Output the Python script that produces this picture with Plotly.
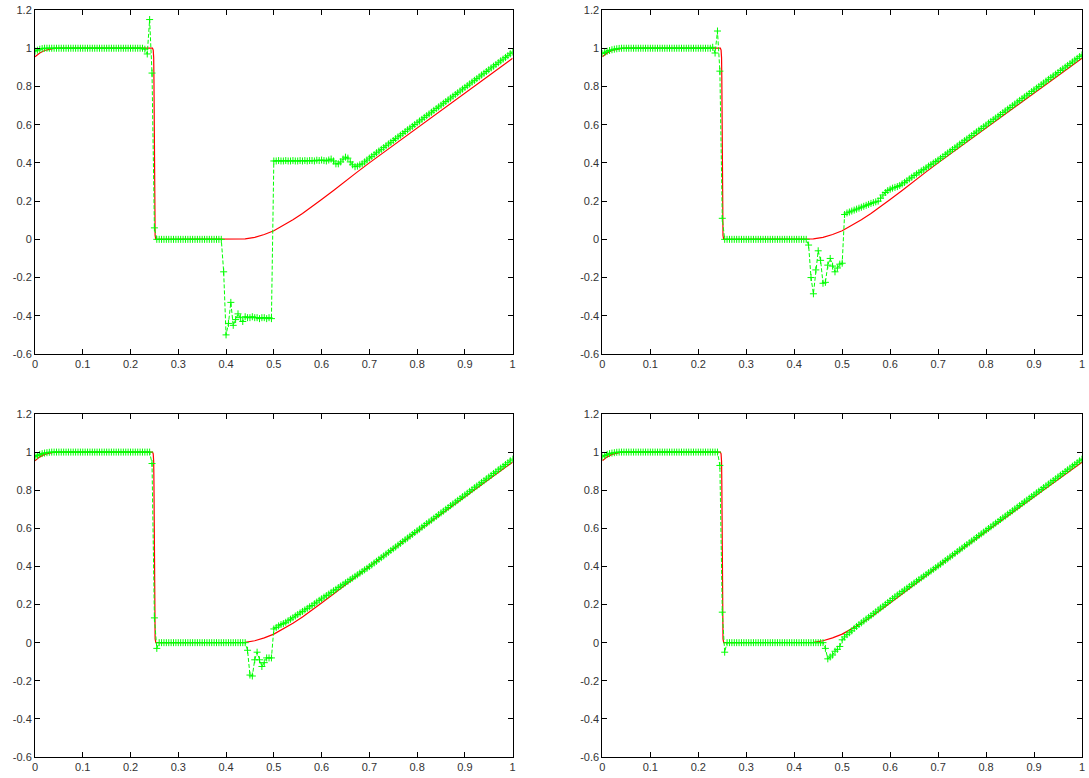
import plotly.graph_objects as go

# ---------------- data ----------------
x_ticks = [0, 0.1, 0.2, 0.3, 0.4, 0.5, 0.6, 0.7, 0.8, 0.9, 1.0]
x_tick_labels = ["0", "0.1", "0.2", "0.3", "0.4", "0.5", "0.6", "0.7", "0.8", "0.9", "1"]
y_ticks = [-0.6, -0.4, -0.2, 0, 0.2, 0.4, 0.6, 0.8, 1.0, 1.2]
y_tick_labels = ["-0.6", "-0.4", "-0.2", "0", "0.2", "0.4", "0.6", "0.8", "1", "1.2"]

# reference (red) curve, same in all panels
ref_x = [0, 0.01, 0.02, 0.03, 0.04, 0.05, 0.246, 0.2475, 0.2485, 0.249, 0.2495, 0.25,
         0.2505, 0.2515, 0.253, 0.42, 0.44, 0.46, 0.48, 0.5, 0.52, 0.54, 0.56, 0.58,
         0.6, 0.625, 0.65, 0.675, 0.7, 0.75, 0.8, 0.85, 0.9, 0.95, 1.0]
ref_y = [0.955, 0.975, 0.988, 0.995, 0.999, 1.0, 1.0, 0.99, 0.95, 0.85, 0.6, 0.3,
         0.1, 0.02, 0.0, 0.0, 0.002, 0.01, 0.025, 0.045, 0.072, 0.102, 0.135, 0.17,
         0.208, 0.255, 0.305, 0.353, 0.4, 0.492, 0.583, 0.674, 0.765, 0.856, 0.947]

# numerical solution (green), sampled every 0.005 on [0, 1]
grid_x = [round(i * 0.005, 3) for i in range(201)]

num_1 = [
    0.985, 0.99, 0.995, 0.998,
    1, 1, 1, 1, 1, 1, 1, 1, 1, 1, 1, 1, 1, 1, 1, 1, 1, 1, 1, 1, 1, 1, 1, 1, 1, 1, 1, 1, 1, 1, 1, 1, 1, 1, 1, 1, 1, 1, 1, 1, 1,
    1.0, 0.995, 0.97, 1.15, 0.87, 0.06,
    0, 0, 0, 0, 0, 0, 0, 0, 0, 0, 0, 0, 0, 0, 0, 0, 0, 0, 0, 0, 0, 0, 0, 0, 0, 0, 0, 0,
    -0.17, -0.50, -0.44, -0.33, -0.45, -0.42, -0.39, -0.41, -0.43, -0.405, -0.41,
    -0.41, -0.405, -0.41, -0.41, -0.415, -0.41, -0.41, -0.415, -0.41, -0.415,
    0.41, 0.41, 0.412, 0.41, 0.41, 0.412, 0.41, 0.41, 0.412, 0.41, 0.41, 0.412,
    0.41, 0.412, 0.41, 0.412, 0.412, 0.41, 0.414, 0.412, 0.415, 0.412, 0.41, 0.415,
    0.42, 0.41, 0.395, 0.395, 0.405, 0.42, 0.43, 0.425, 0.405, 0.39, 0.38, 0.383,
    0.39, 0.395, 0.405, 0.415, 0.425,
    0.434, 0.443, 0.453, 0.462, 0.471, 0.480, 0.490, 0.499, 0.508, 0.517,
    0.527, 0.536, 0.545, 0.554, 0.564, 0.573, 0.582, 0.591, 0.601, 0.610,
    0.619, 0.628, 0.638, 0.647, 0.656, 0.665, 0.675, 0.684, 0.693, 0.702,
    0.712, 0.721, 0.730, 0.739, 0.749, 0.758, 0.767, 0.776, 0.786, 0.795,
    0.804, 0.813, 0.823, 0.832, 0.841, 0.850, 0.860, 0.869, 0.878, 0.887,
    0.897, 0.906, 0.915, 0.924, 0.934, 0.943, 0.952, 0.961, 0.971, 0.980,
]

num_2 = [
    0.972, 0.978, 0.984, 0.988, 0.992, 0.995, 0.997, 0.999,
    1, 1, 1, 1, 1, 1, 1, 1, 1, 1, 1, 1, 1, 1, 1, 1, 1, 1, 1, 1, 1, 1, 1, 1, 1, 1, 1, 1, 1, 1, 1, 1, 1, 1, 1, 1, 1,
    1.0, 1.005, 0.975, 1.09, 0.88, 0.11,
    0, 0, 0, 0, 0, 0, 0, 0, 0, 0, 0, 0, 0, 0, 0, 0, 0, 0, 0, 0, 0, 0, 0, 0, 0, 0, 0, 0, 0, 0, 0, 0, 0, 0, 0,
    -0.03, -0.20, -0.285, -0.16, -0.06, -0.11, -0.23, -0.225, -0.135, -0.10,
    -0.14, -0.17, -0.15, -0.13, -0.125,
    0.13, 0.138, 0.143, 0.148, 0.153, 0.158, 0.163, 0.168, 0.173, 0.178,
    0.183, 0.188, 0.192, 0.196, 0.2, 0.215, 0.232, 0.245, 0.255, 0.262,
    0.268, 0.272, 0.276, 0.282, 0.29, 0.298, 0.307, 0.316, 0.325,
    0.334, 0.342, 0.35, 0.358, 0.366, 0.374, 0.383, 0.391, 0.399, 0.407, 0.415,
    0.424, 0.433, 0.443, 0.452, 0.461, 0.470, 0.479, 0.488, 0.498, 0.507,
    0.516, 0.525, 0.534, 0.543, 0.553, 0.562, 0.571, 0.580, 0.589, 0.598,
    0.608, 0.617, 0.626, 0.635, 0.644, 0.653, 0.663, 0.672, 0.681, 0.690,
    0.699, 0.708, 0.718, 0.727, 0.736, 0.745, 0.754, 0.763, 0.773, 0.782,
    0.791, 0.800, 0.809, 0.818, 0.828, 0.837, 0.846, 0.855, 0.864, 0.873,
    0.883, 0.892, 0.901, 0.910, 0.919, 0.928, 0.938, 0.947, 0.956, 0.965,
]

num_3 = [
    0.975, 0.982, 0.988, 0.992, 0.995, 0.997, 0.999, 1,
    1, 1, 1, 1, 1, 1, 1, 1, 1, 1, 1, 1, 1, 1, 1, 1, 1, 1, 1, 1, 1, 1, 1, 1, 1, 1, 1, 1, 1, 1, 1, 1, 1, 1, 1, 1, 1, 1, 1, 1, 1,
    0.94, 0.13, -0.03,
    0, 0, 0, 0, 0, 0, 0, 0, 0, 0, 0, 0, 0, 0, 0, 0, 0, 0, 0, 0, 0, 0, 0, 0, 0, 0, 0, 0, 0, 0, 0, 0, 0, 0, 0, 0, 0,
    -0.04, -0.17, -0.175, -0.09, -0.05, -0.09, -0.125, -0.105, -0.08, -0.08, -0.08,
    0.072, 0.08, 0.088, 0.095, 0.1, 0.107, 0.115, 0.123, 0.131, 0.14,
    0.148, 0.156, 0.164, 0.172, 0.18, 0.188, 0.195, 0.204, 0.213, 0.222,
    0.23, 0.239, 0.247, 0.255, 0.264, 0.272, 0.28, 0.289, 0.297, 0.306,
    0.314, 0.322, 0.331, 0.339, 0.348, 0.356, 0.365, 0.373, 0.382, 0.39, 0.399,
    0.408, 0.418, 0.427, 0.437, 0.446, 0.455, 0.465, 0.474, 0.484, 0.493,
    0.502, 0.512, 0.521, 0.531, 0.54, 0.549, 0.559, 0.568, 0.578, 0.587,
    0.596, 0.606, 0.615, 0.625, 0.634, 0.643, 0.653, 0.662, 0.672, 0.681,
    0.69, 0.7, 0.709, 0.719, 0.728, 0.737, 0.747, 0.756, 0.766, 0.775,
    0.784, 0.794, 0.803, 0.813, 0.822, 0.831, 0.841, 0.85, 0.86, 0.869,
    0.878, 0.888, 0.897, 0.907, 0.916, 0.925, 0.935, 0.944, 0.954, 0.963,
]

num_4 = [
    0.975, 0.982, 0.988, 0.992, 0.995, 0.997, 0.999, 1,
    1, 1, 1, 1, 1, 1, 1, 1, 1, 1, 1, 1, 1, 1, 1, 1, 1, 1, 1, 1, 1, 1, 1, 1, 1, 1, 1, 1, 1, 1, 1, 1, 1, 1, 1, 1, 1, 1, 1, 1, 1,
    0.93, 0.16, -0.05,
    0, 0, 0, 0, 0, 0, 0, 0, 0, 0, 0, 0, 0, 0, 0, 0, 0, 0, 0, 0, 0, 0, 0, 0, 0, 0, 0, 0, 0, 0, 0, 0, 0, 0, 0, 0, 0, 0, 0, 0, 0,
    -0.03, -0.085, -0.075, -0.065, -0.045, -0.035, -0.02,
    0.015, 0.03, 0.042, 0.052, 0.062, 0.075, 0.085, 0.095, 0.104, 0.114,
    0.124, 0.133, 0.142, 0.152, 0.162, 0.172, 0.182, 0.191, 0.201, 0.211,
    0.221, 0.231, 0.241, 0.25, 0.259, 0.268, 0.277, 0.286, 0.295, 0.304, 0.313,
    0.322, 0.331, 0.34, 0.349, 0.358, 0.367, 0.376, 0.385, 0.394, 0.403,
    0.412, 0.422, 0.431, 0.440, 0.450, 0.459, 0.468, 0.478, 0.487, 0.496,
    0.506, 0.515, 0.524, 0.534, 0.543, 0.552, 0.562, 0.571, 0.580, 0.590,
    0.599, 0.608, 0.618, 0.627, 0.636, 0.646, 0.655, 0.664, 0.674, 0.683,
    0.692, 0.702, 0.711, 0.720, 0.730, 0.739, 0.748, 0.758, 0.767, 0.776,
    0.786, 0.795, 0.804, 0.814, 0.823, 0.832, 0.842, 0.851, 0.860, 0.870,
    0.879, 0.888, 0.898, 0.907, 0.916, 0.926, 0.935, 0.944, 0.954, 0.963,
]

panels = [num_1, num_2, num_3, num_4]

# ---------------- figure ----------------
W, H = 1089, 778
ML, MR, MT, MB = 35, 4, 10, 21

x_domains = [[0.0, 0.4562], [0.5419, 1.0], [0.0, 0.4562], [0.5419, 1.0]]
y_domains = [[0.5395, 1.0], [0.5395, 1.0], [0.0, 0.4592], [0.0, 0.4592]]

RED = "#ff0000"
GREEN = "#00ff00"

fig = go.Figure()
layout = dict(
    width=W, height=H,
    margin=dict(l=ML, r=MR, t=MT, b=MB),
    paper_bgcolor="white", plot_bgcolor="white",
    showlegend=False,
    font=dict(family="Liberation Sans, Arial, sans-serif", size=11, color="#333333"),
)

for k, vals in enumerate(panels):
    n = "" if k == 0 else str(k + 1)
    xa, ya = "x" + n, "y" + n
    fig.add_trace(go.Scatter(
        x=ref_x, y=ref_y, mode="lines", xaxis=xa, yaxis=ya,
        line=dict(color=RED, width=1.2), hoverinfo="skip"))
    fig.add_trace(go.Scatter(
        x=grid_x, y=vals, mode="lines+markers", xaxis=xa, yaxis=ya,
        line=dict(color=GREEN, width=1, dash="4px,2px"),
        marker=dict(symbol="cross-thin", size=5, line=dict(color=GREEN, width=1)),
        hoverinfo="skip"))
    common = dict(showgrid=False, zeroline=False, showline=True, linecolor="black",
                  linewidth=1, mirror="ticks", ticks="inside", ticklen=5,
                  tickwidth=1, tickcolor="black",
                  tickfont=dict(family="Liberation Sans, Arial, sans-serif", size=11, color="#333333"))
    layout["xaxis" + n] = dict(common, domain=x_domains[k], range=[0, 1], anchor=ya,
                               tickmode="array", tickvals=x_ticks, ticktext=x_tick_labels)
    layout["yaxis" + n] = dict(common, domain=y_domains[k], range=[-0.6, 1.2], anchor=xa,
                               tickmode="array", tickvals=y_ticks, ticktext=y_tick_labels)

fig.update_layout(**layout)
fig.write_html("out.html",
               config={"displayModeBar": False},
               post_script="document.body.style.margin='0';document.body.style.overflow='hidden';")
